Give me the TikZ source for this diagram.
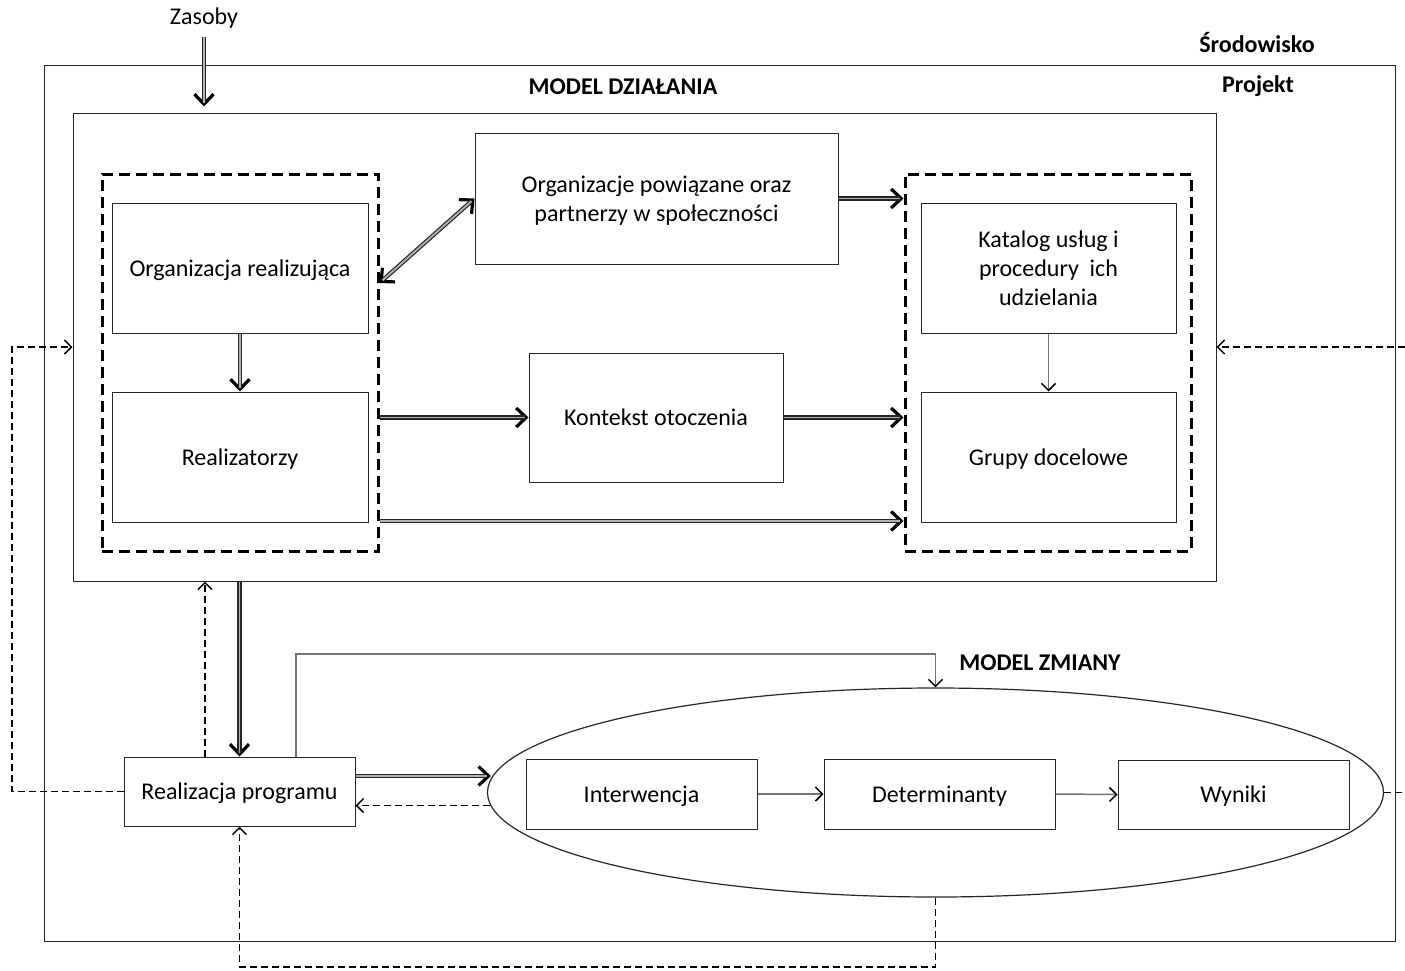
\documentclass[tikz,border=0pt]{standalone}
\usepackage{fontspec}
\setmainfont{Carlito}
\usetikzlibrary{arrows.meta,shapes.geometric,calc}
\newcommand\dgtxt{\fontsize{24}{29}\selectfont}
\begin{document}
\begin{tikzpicture}[x=1pt,y=-1pt,
  box/.style={draw=black!85, line width=1pt, inner sep=0pt, align=center, font=\dgtxt, text depth=0pt},
  lbl/.style={font=\dgtxt\bfseries, inner sep=0pt},
  plain/.style={font=\dgtxt, inner sep=0pt},
  frame/.style={draw=black!85, line width=1pt, inner sep=0pt},
  dashbox/.style={draw=black, line width=3pt, dash pattern=on 11pt off 6pt, inner sep=0pt},
  bigtip/.tip={Straight Barb[length=10pt,width=19pt,line width=3.2pt]},
  smalltip/.tip={Straight Barb[length=7pt,width=14pt,line width=1.5pt]},
  thicktip/.style={draw=black, line width=3pt, -bigtip},
  thicktipb/.style={draw=black, line width=3pt, bigtip-bigtip},
  dblshaft/.style={draw=black!85, line width=1.2pt, double=black!30, double distance=1.8pt, shorten >=4pt},
  thin/.style={draw=black!55, line width=1.5pt, -{smalltip[color=black]}},
  dsh/.style={draw=black, line width=1.3pt, dash pattern=on 7pt off 4pt},
  dsharr/.style={dsh, -smalltip}
]
\newcommand\dblar[2]{\draw[thicktip] #1 -- #2; \draw[dblshaft] #1 -- #2;}
\useasboundingbox (0,0) rectangle (1405,970);

% frames
\node[frame, minimum width=1351pt, minimum height=876pt] (proj) at (719.5,503) {};
\node[frame, minimum width=1143pt, minimum height=468pt] (model) at (644.5,347) {};
\node[dashbox, minimum width=276pt, minimum height=377pt] (ldash) at (240,362.5) {};
\node[dashbox, minimum width=286pt, minimum height=377pt] (rdash) at (1048,362.5) {};

% labels
\node[plain] (zas) at (204,18) {Zasoby};
\node[lbl] (srod) at (1257,43) {Środowisko};
\node[lbl] (projl) at (1258,86) {Projekt};
\node[lbl] (mdl) at (623,87) {MODEL DZIAŁANIA};
\node[lbl] (mzm) at (1040,663) {MODEL ZMIANY};

% boxes
\node[box, minimum width=256pt, minimum height=130pt] (org) at (240,268) {Organizacja realizująca};
\node[box, minimum width=256pt, minimum height=130pt] (real) at (240,457) {Realizatorzy};
\node[box, minimum width=363pt, minimum height=131pt] (orgp) at (656.5,198.5) {Organizacje powiązane oraz\\partnerzy w społeczności};
\node[box, minimum width=254pt, minimum height=129pt] (kont) at (656,417.5) {Kontekst otoczenia};
\node[box, minimum width=255pt, minimum height=130pt] (kat) at (1048.5,268) {Katalog usług i\\procedury\ \ ich\\udzielania};
\node[box, minimum width=255pt, minimum height=130pt] (grupy) at (1048.5,457) {Grupy docelowe};
\node[box, minimum width=231pt, minimum height=69pt] (realp) at (239.5,791.5) {Realizacja programu};
\node[draw=black!85, line width=1.2pt, ellipse, inner sep=0pt, minimum width=896pt, minimum height=209pt] (ell) at (935.5,792.5) {};
\node[box, minimum width=231pt, minimum height=70pt] (int) at (641.5,794) {Interwencja};
\node[box, minimum width=231pt, minimum height=70pt] (det) at (939.5,794) {Determinanty};
\node[box, minimum width=231pt, minimum height=69pt] (wyn) at (1233.5,794.5) {Wyniki};

% coordinates
\coordinate (zs) at ($(zas.south)+(0,9)$);
\coordinate (zt) at ($(zas.south |- model.north)+(0,-6)$);
\coordinate (lb) at ([yshift=79.5pt]ldash.east);
\coordinate (l3) at ([yshift=-158.5pt]ldash.east);
\coordinate (r3) at ([yshift=-158.5pt]rdash.west);
\coordinate (rpt) at ([xshift=-34.5pt]realp.north);
\coordinate (rpt2) at ([xshift=56.5pt]realp.north);
\coordinate (e1) at ([shift={(3pt,-13pt)}]ell.west);
\coordinate (e2) at ([shift={(4pt,16.5pt)}]ell.west);
\coordinate (lp) at (935.5,654);
\coordinate (lft) at (12,347);
\coordinate (rgt) at (1405,347);
\coordinate (bot) at (239.5,967);

% double arrows
\dblar{(zs)}{(zt)}
\draw[thicktipb] (lb) -- (orgp.west);
\draw[dblshaft, shorten <=4pt] (lb) -- (orgp.west);
\dblar{(orgp.east)}{(orgp.east -| rdash.west)}
\dblar{(kont.west -| ldash.east)}{(kont.west)}
\dblar{(kont.east)}{(kont.east -| rdash.west)}
\dblar{(l3)}{(r3)}
\dblar{(org.south)}{(real.north)}
\dblar{(realp.north |- model.south)}{(realp.north)}
\dblar{(e2 -| realp.east)}{(e2)}

% thin arrows
\draw[thin] (kat.south) -- (grupy.north);
\draw[thin] (int.east) -- (det.west);
\draw[thin] (det.east) -- (wyn.west);
\draw[thin] (rpt2) |- (lp) -- (ell.north);

% dashed arrows
\draw[dsharr] (rpt) -- (rpt |- model.south);
\draw[dsharr] (e1) -- (e1 -| realp.east);
\draw[dsharr] (realp.west) -| (lft) -- (model.west);
\draw[dsharr] (rgt) -- (model.east);
\draw[dsh] (ell.east) -- (ell.east -| rgt);
\draw[dsharr] (ell.south) |- (bot) -- (realp.south);
\end{tikzpicture}
\end{document}
